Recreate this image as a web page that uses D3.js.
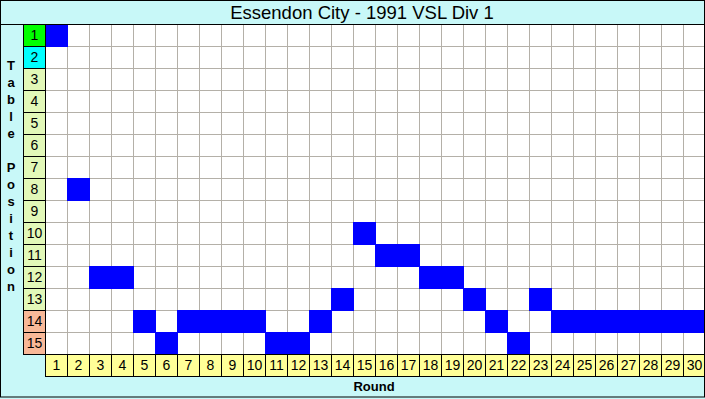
<!DOCTYPE html>
<html>
<head>
<meta charset="utf-8">
<script src="https://cdn.jsdelivr.net/npm/d3@7"></script>
<style>
  body { margin: 0; background: #fff; }
  svg text { font-family: Arial, "Liberation Sans", sans-serif; }
</style>
</head>
<body>
<div id="chart"></div>
<script>
var title = "Essendon City - 1991 VSL Div 1";
var rounds = d3.range(1, 31);
var positions = d3.range(1, 16);
// ladder position after each round
var ladder = [1, 8, 12, 12, 14, 15, 14, 14, 14, 14, 15, 15, 14, 13, 10,
              11, 11, 12, 12, 13, 14, 15, 13, 14, 14, 14, 14, 14, 14, 14];
var posColors = ["#00ff00", "#00ffff", "#e2f8b8", "#e2f8b8", "#e2f8b8", "#e2f8b8",
                 "#e2f8b8", "#e2f8b8", "#e2f8b8", "#e2f8b8", "#e2f8b8", "#e2f8b8",
                 "#e2f8b8", "#f8b898", "#f8b898"];
var yLabel = "Table Position";
var xLabel = "Round";

var W = 705, H = 399;
var grid = { left: 45, top: 24, right: 705, bottom: 354 };

var svg = d3.select("#chart").append("svg")
    .attr("width", W)
    .attr("height", H);

// background
svg.append("rect")
    .attr("x", 0).attr("y", 0)
    .attr("width", W).attr("height", H)
    .attr("fill", "#c8f8f8");

var x = d3.scaleBand().domain(rounds).range([grid.left, grid.right]);
var y = d3.scaleBand().domain(positions).range([grid.top, grid.bottom]);

// plot area
svg.append("rect")
    .attr("x", grid.left).attr("y", grid.top)
    .attr("width", grid.right - grid.left).attr("height", grid.bottom - grid.top)
    .attr("fill", "#fff");

// gridlines
svg.append("g").selectAll("line")
    .data(rounds.slice(1))
    .enter().append("line")
    .attr("x1", function (d) { return x(d) + 0.5; })
    .attr("x2", function (d) { return x(d) + 0.5; })
    .attr("y1", grid.top).attr("y2", grid.bottom)
    .attr("stroke", "#b4b0a8");
svg.append("g").selectAll("line")
    .data(positions.slice(1))
    .enter().append("line")
    .attr("y1", function (d) { return y(d) + 0.5; })
    .attr("y2", function (d) { return y(d) + 0.5; })
    .attr("x1", grid.left).attr("x2", grid.right)
    .attr("stroke", "#b4b0a8");

// position cells
svg.append("g").selectAll("rect")
    .data(ladder)
    .enter().append("rect")
    .attr("x", function (d, i) { return x(rounds[i]); })
    .attr("y", function (d) { return y(d); })
    .attr("width", x.bandwidth() + 1)
    .attr("height", y.bandwidth() + 1)
    .attr("fill", "#0000ff");

// left labels
var lw = 22;
var left = svg.append("g");
left.selectAll("rect")
    .data(positions)
    .enter().append("rect")
    .attr("x", grid.left - lw + 0.5)
    .attr("y", function (d) { return y(d) + 0.5; })
    .attr("width", lw)
    .attr("height", y.bandwidth())
    .attr("fill", function (d, i) { return posColors[i]; })
    .attr("stroke", "#000");
left.selectAll("text")
    .data(positions)
    .enter().append("text")
    .attr("x", grid.left - lw / 2 + 0.5)
    .attr("y", function (d) { return y(d) + y.bandwidth() / 2 + 5; })
    .attr("text-anchor", "middle")
    .style("font-size", "14px")
    .text(function (d) { return d; });

// bottom labels
var bh = 22;
var bottom = svg.append("g");
bottom.selectAll("rect")
    .data(rounds)
    .enter().append("rect")
    .attr("x", function (d) { return x(d) + 0.5; })
    .attr("y", grid.bottom + 0.5)
    .attr("width", x.bandwidth())
    .attr("height", bh)
    .attr("fill", "#ffff98")
    .attr("stroke", "#000");
bottom.selectAll("text")
    .data(rounds)
    .enter().append("text")
    .attr("x", function (d) { return x(d) + x.bandwidth() / 2 + 0.5; })
    .attr("y", grid.bottom + bh / 2 + 5)
    .attr("text-anchor", "middle")
    .style("font-size", "14px")
    .text(function (d) { return d; });

// plot frame
svg.append("line")
    .attr("x1", grid.left + 0.5).attr("x2", grid.left + 0.5)
    .attr("y1", grid.top).attr("y2", grid.bottom)
    .attr("stroke", "#000");
svg.append("line")
    .attr("x1", 0).attr("x2", W)
    .attr("y1", grid.top + 0.5).attr("y2", grid.top + 0.5)
    .attr("stroke", "#000");

// title
svg.append("text")
    .attr("x", 362)
    .attr("y", 19)
    .attr("text-anchor", "middle")
    .style("font-size", "18.5px")
    .text(title);

// axis titles
svg.append("text")
    .attr("x", 374)
    .attr("y", 391)
    .attr("text-anchor", "middle")
    .style("font-size", "13px")
    .style("font-weight", "bold")
    .text(xLabel);

svg.append("g").selectAll("text")
    .data(yLabel.split(""))
    .enter().append("text")
    .attr("x", 11)
    .attr("y", function (d, i) { return 70 + i * 17; })
    .attr("text-anchor", "middle")
    .style("font-size", "13px")
    .style("font-weight", "bold")
    .text(function (d) { return d; });

// outer border
svg.append("rect")
    .attr("x", 0.5).attr("y", 0.5)
    .attr("width", W - 1).attr("height", H - 2.5)
    .attr("fill", "none")
    .attr("stroke", "#000");
</script>
</body>
</html>
